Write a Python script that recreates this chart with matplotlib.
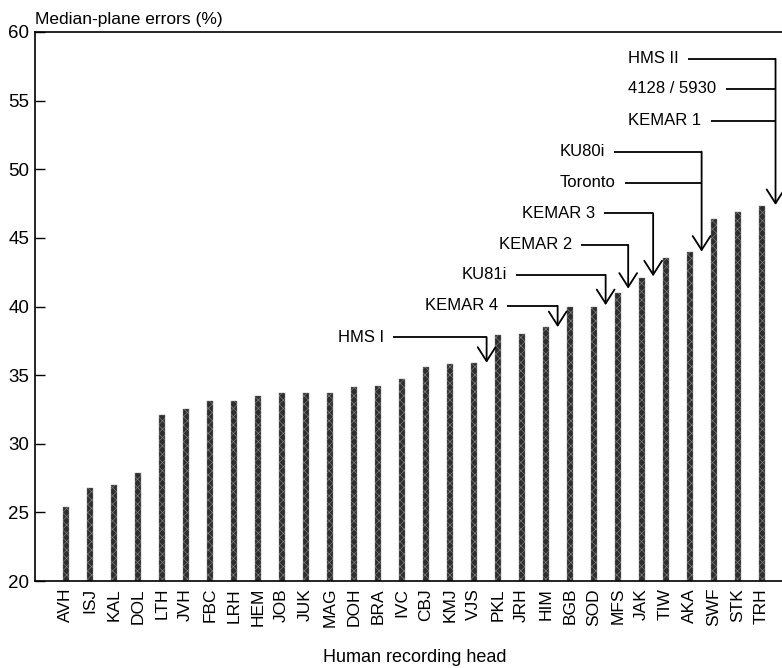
import numpy as np
import matplotlib
matplotlib.use('Agg')
import matplotlib.pyplot as plt

plt.rcParams['font.family'] = ['Liberation Sans', 'DejaVu Sans']
plt.rcParams['hatch.linewidth'] = 0.5

#%% data: human recording heads, ranked by median-plane error
heads = ['AVH', 'ISJ', 'KAL', 'DOL', 'LTH', 'JVH', 'FBC', 'LRH', 'HEM', 'JOB',
         'JUK', 'MAG', 'DOH', 'BRA', 'IVC', 'CBJ', 'KMJ', 'VJS', 'PKL', 'JRH',
         'HIM', 'BGB', 'SOD', 'MFS', 'JAK', 'TIW', 'AKA', 'SWF', 'STK', 'TRH']
errors = [25.4, 26.8, 27.0, 27.9, 32.1, 32.5, 33.1, 33.1, 33.5, 33.7,
          33.7, 33.7, 34.1, 34.2, 34.7, 35.6, 35.8, 35.9, 37.9, 38.0,
          38.5, 40.0, 40.0, 41.0, 42.1, 43.5, 44.0, 46.4, 46.9, 47.3]

# artificial heads: rank position (between human heads) and error
dummies = ['HMS II', '4128 / 5930', 'KEMAR 1', 'KU80i', 'Toronto',
           'KEMAR 3', 'KEMAR 2', 'KU81i', 'KEMAR 4', 'HMS I']
dummy_rank = [29.58, 29.58, 29.58, 26.5, 26.5, 24.48, 23.44, 22.5, 20.5, 17.54]
dummy_err = [47.4, 47.4, 47.4, 44.0, 44.0, 42.2, 41.3, 40.1, 38.5, 35.9]

# label layout (text x in rank units, text level in %)
lbl_x = [23.45, 23.45, 23.45, 20.6, 20.6, 19.0, 18.04, 16.5, 14.97, 11.35]
lbl_y = [58.05, 55.86, 53.55, 51.29, 49.03, 46.8, 44.49, 42.3, 40.04, 37.76]

W, H = 782, 668
fig = plt.figure(figsize=(W/100, H/100), dpi=100)
ax = fig.add_axes([35/W, 1-581/H, (W-35)/W, (581-32)/H])

x = np.arange(len(heads))
ax.bar(x, np.array(errors)-20, bottom=20, width=0.25, color='#2e2e2e',
       edgecolor='#7a7a7a', linewidth=0.3, hatch='xxxx')

ax.set_xlim(-1.28, 29.85)
ax.set_ylim(20, 60)
ax.set_yticks(np.arange(20, 61, 5))
ax.set_xticks(x)
ax.set_xticklabels(heads, rotation=90, fontsize=12.5)
ax.tick_params(axis='x', length=0, pad=5)
ax.tick_params(axis='y', direction='in', length=7, width=1, labelsize=13.5, pad=4)
ax.spines['right'].set_visible(False)
for s in ['left', 'bottom', 'top']:
    ax.spines[s].set_linewidth(1.2)

fig.text(35/W, 1-24/H, 'Median-plane errors (%)', fontsize=12.5, va='baseline', ha='left')
fig.text(415/W, 1-657/H, 'Human recording head', fontsize=13, va='center', ha='center')

# labels + leader lines
fig.canvas.draw()
rend = fig.canvas.get_renderer()
inv = ax.transData.inverted()
lw = 1.3
tops = {}
for name, rk, ev, tx, ty in zip(dummies, dummy_rank, dummy_err, lbl_x, lbl_y):
    t = ax.text(tx, ty, name, fontsize=12, ha='left', va='center')
    bb = t.get_window_extent(renderer=rend)
    x0 = inv.transform((bb.x1 + 9, 0))[0]
    ax.plot([x0, rk], [ty, ty], color='k', lw=lw, solid_capstyle='butt')
    tops[rk] = max(tops.get(rk, 0), ty)

for rk, ev in zip(dummy_rank, dummy_err):
    if rk in tops:
        ax.annotate('', xy=(rk, ev), xytext=(rk, tops.pop(rk)),
                    arrowprops=dict(arrowstyle='->, head_length=0.5, head_width=0.32',
                                    lw=lw, color='k', shrinkA=0, shrinkB=0,
                                    mutation_scale=20))

fig.savefig('out.png', dpi=100)
